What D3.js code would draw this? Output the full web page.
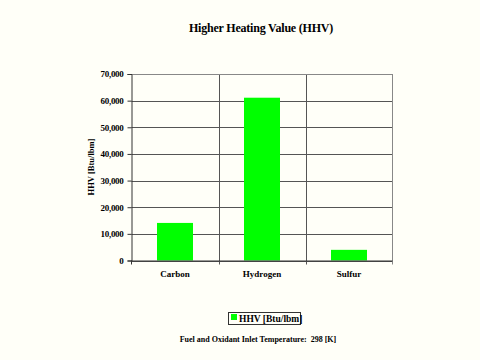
<!DOCTYPE html>
<html><head><meta charset="utf-8">
<script src="https://cdn.jsdelivr.net/npm/d3@7"></script>
<style>
html,body{margin:0;padding:0;background:#fffff8;}
text{font-family:"Liberation Serif","Times New Roman",serif;font-weight:bold;fill:#000;}
</style></head>
<body>
<svg id="c" width="480" height="360"></svg>
<script>
const categories = ["Carbon", "Hydrogen", "Sulfur"];
const hhvValues = [14100, 61100, 4000];
const yTicks = [0, 10000, 20000, 30000, 40000, 50000, 60000, 70000];
const seriesName = "HHV [Btu/lbm]";
const titleText = "Higher Heating Value (HHV)";
const yLabel = "HHV [Btu/lbm]";
const footText = "Fuel and Oxidant Inlet Temperature:  298 [K]";

const svg = d3.select("#c");
svg.append("rect").attr("width",480).attr("height",360).attr("fill","#fffff8");
const L=131.5, R=392.5, T=74, B=260.5;
const x = d3.scaleBand().domain(categories).range([L,R]).paddingInner(0).paddingOuter(0);
const y = d3.scaleLinear().domain([0,70000]).range([B,T]);

const g = svg.append("g");
g.selectAll("line.h").data(yTicks).enter().append("line")
  .attr("x1",L).attr("x2",R).attr("y1",d=>Math.round(y(d))+0.5).attr("y2",d=>Math.round(y(d))+0.5)
  .attr("stroke","#555").attr("stroke-width",1);
const divs = categories.slice(1).map(c=>x(c));
g.selectAll("line.v").data(divs).enter().append("line")
  .attr("x1",d=>Math.round(d)+0.5).attr("x2",d=>Math.round(d)+0.5).attr("y1",T).attr("y2",B+4)
  .attr("stroke","#555");
g.append("line").attr("x1",R).attr("x2",R).attr("y1",T).attr("y2",B+4).attr("stroke","#888");
g.append("line").attr("x1",L).attr("x2",R).attr("y1",T+0.5).attr("y2",T+0.5).attr("stroke","#888");

const bw = 36;
svg.selectAll("rect.bar").data(categories).enter().append("rect")
  .attr("x",(d)=>x(d)+x.bandwidth()/2-bw/2)
  .attr("width",bw)
  .attr("y",(d,i)=>y(hhvValues[i]))
  .attr("height",(d,i)=>y(0)-y(hhvValues[i]))
  .attr("fill","#00ff00");

const ya = svg.append("g").attr("transform",`translate(${L},0)`)
  .call(d3.axisLeft(y).tickValues(yTicks).tickFormat(d3.format(",")).tickSize(4).tickPadding(4));
ya.select(".domain").attr("stroke","#333");
ya.selectAll(".tick line").attr("stroke","#333");
ya.selectAll("text").style("font-size","9px").style("letter-spacing","-0.3px")
  .style("font-family","Liberation Serif").style("font-weight","bold");

svg.append("line").attr("x1",L).attr("x2",R).attr("y1",B+0.5).attr("y2",B+0.5).attr("stroke","#333");
svg.append("line").attr("x1",L).attr("x2",L).attr("y1",B).attr("y2",B+4).attr("stroke","#333");

svg.selectAll("text.xl").data(categories).enter().append("text")
  .attr("x",d=>x(d)+x.bandwidth()/2).attr("y",277)
  .attr("text-anchor","middle").style("font-size","9px").text(d=>d);

svg.append("text").attr("x",261).attr("y",32).attr("text-anchor","middle")
  .style("font-size","12px").style("letter-spacing","-0.2px").text(titleText);

svg.append("text").attr("transform","translate(94,167) rotate(-90)")
  .attr("text-anchor","middle").style("font-size","8.5px").text(yLabel);

const lg = svg.append("g");
lg.append("rect").attr("x",228.5).attr("y",312.5).attr("width",72).attr("height",12)
  .attr("fill","#fffff8").attr("stroke","#333");
lg.append("rect").attr("x",231).attr("y",314).attr("width",6).attr("height",6).attr("fill","#00ff00");
lg.append("text").attr("x",239).attr("y",322).style("font-size","9.5px").text(seriesName);

svg.append("text").attr("x",258).attr("y",342).attr("text-anchor","middle")
  .style("font-size","8px").attr("xml:space","preserve").style("white-space","pre").text(footText);
</script>
</body></html>
